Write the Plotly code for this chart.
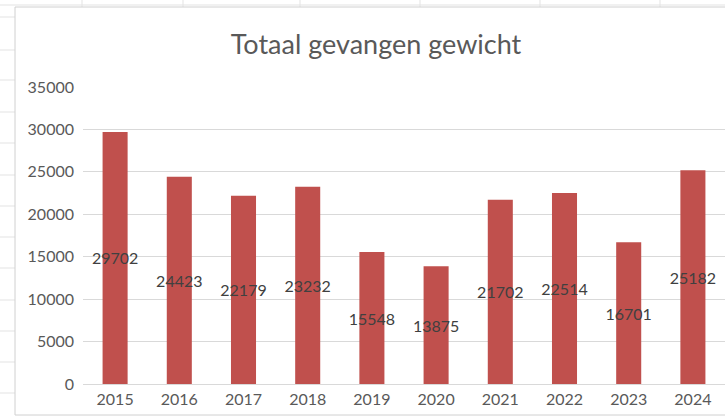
import plotly.graph_objects as go

years = ["2015", "2016", "2017", "2018", "2019", "2020", "2021", "2022", "2023", "2024"]
weights = [29702, 24423, 22179, 23232, 15548, 13875, 21702, 22514, 16701, 25182]
y_ticks = [0, 5000, 10000, 15000, 20000, 25000, 30000, 35000]

FONT = "Lato"

fig = go.Figure(go.Bar(
    x=years,
    y=weights,
    marker=dict(color="#C0504D", line=dict(width=0)),
    text=[str(w) for w in weights],
    textposition="inside",
    insidetextanchor="middle",
    constraintext="none",
    textangle=0,
    textfont=dict(family=FONT, size=16, color="#404040"),
    cliponaxis=False,
    hoverinfo="skip",
))

PW, PH, L, B = 642, 297, 83, 36

def px(x):
    return (x - L) / PW

def py(y):
    return (420 - y - B) / PH

# spreadsheet background decorations (outside chart area)
shapes = []
for yy in [17, 50, 80, 112, 143, 175, 206, 237, 268, 300, 331, 362, 393]:
    shapes.append(dict(type="line", xref="paper", yref="paper",
                       x0=px(0), x1=px(15), y0=py(yy), y1=py(yy),
                       line=dict(color="#E3E3E3", width=1), layer="below"))
for xx in [82, 183, 300, 420, 540, 660]:
    shapes.append(dict(type="line", xref="paper", yref="paper",
                       x0=px(xx), x1=px(xx), y0=py(0), y1=py(7),
                       line=dict(color="#E3E3E3", width=1), layer="below"))
shapes.append(dict(type="line", xref="paper", yref="paper",
                   x0=px(0), x1=px(725), y0=py(5), y1=py(5),
                   line=dict(color="#E3E3E3", width=1), layer="below"))
# chart border
shapes.append(dict(type="line", xref="paper", yref="paper",
                   x0=px(15), x1=px(15), y0=py(7), y1=py(415),
                   line=dict(color="#D0D0D0", width=1)))
shapes.append(dict(type="line", xref="paper", yref="paper",
                   x0=px(15), x1=px(725), y0=py(7), y1=py(7),
                   line=dict(color="#D0D0D0", width=1)))
shapes.append(dict(type="line", xref="paper", yref="paper",
                   x0=px(15), x1=px(725), y0=py(415), y1=py(415),
                   line=dict(color="#D0D0D0", width=1)))

fig.update_layout(
    width=725, height=420,
    margin=dict(l=L, r=0, t=87, b=B),
    paper_bgcolor="#FFFFFF",
    plot_bgcolor="#FFFFFF",
    bargap=0.61,
    showlegend=False,
    hovermode=False,
    title=dict(text="Totaal gevangen gewicht", x=376/725, xanchor="center",
               y=1 - 45/420, yanchor="middle",
               font=dict(family=FONT, size=27, color="#595959")),
    font=dict(family=FONT, size=16, color="#595959"),
    shapes=shapes,
)
fig.update_xaxes(
    type="category",
    showgrid=False, showline=False, ticks="",
    tickfont=dict(family=FONT, size=16, color="#595959"),
    ticklabelstandoff=4,
)
fig.update_yaxes(
    range=[0, 35000],
    tickvals=y_ticks,
    ticktext=[str(t) for t in y_ticks],
    showgrid=True, gridcolor="#D9D9D9", gridwidth=1,
    zeroline=True, zerolinecolor="#D9D9D9", zerolinewidth=1,
    showline=False, ticks="",
    ticklabelstandoff=8,
    tickfont=dict(family=FONT, size=16, color="#595959"),
)

fig.write_html("out.html", config={"displayModeBar": False},
               post_script="document.body.style.margin='0';")
